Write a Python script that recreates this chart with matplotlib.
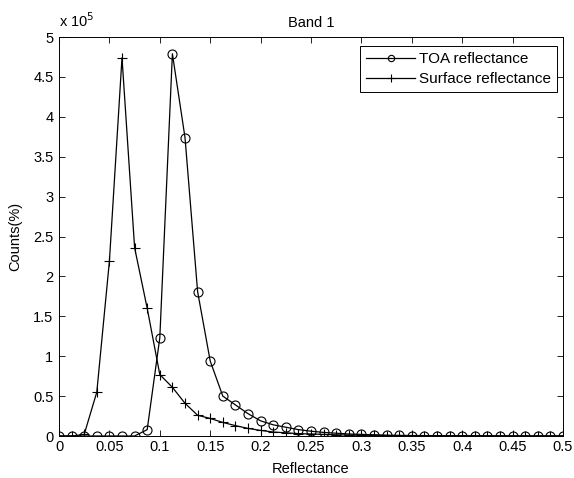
import numpy as np
import matplotlib
matplotlib.use('Agg')
import matplotlib.pyplot as plt
from matplotlib.ticker import FuncFormatter, MultipleLocator

# reflectance bins (step 0.0125)
reflectance = np.arange(41) * 0.0125

# counts per bin
toa_counts = [
    0, 0, 0, 0, 0, 0, 0, 8000, 123000, 479000,
    374000, 181000, 94000, 50000, 39000, 28000, 19000, 14000, 11000, 8000,
    6000, 4500, 3500, 2500, 2000, 1500, 1000, 800, 600, 500,
    400, 300, 300, 200, 200, 200, 100, 100, 100, 100, 100,
]
surface_counts = [
    0, 0, 2000, 55000, 219000, 474000, 236000, 160000, 77000, 61000,
    41000, 26000, 22000, 17000, 13000, 9500, 7000, 5000, 4000, 3000,
    2500, 2000, 1500, 1200, 1000, 800, 600, 500, 400, 300,
    300, 200, 200, 200, 100, 100, 100, 100, 100, 100, 100,
]

plt.rcParams['font.family'] = ['Liberation Sans', 'DejaVu Sans']
plt.rcParams['font.size'] = 10.5

fig = plt.figure(figsize=(5.74, 4.78), dpi=100)
ax = fig.add_axes([59 / 574, 1 - 436 / 478, 504 / 574, 399 / 478])

ax.plot(reflectance, toa_counts, color='black', lw=0.9, marker='o',
        mfc='none', mec='black', ms=6.5, mew=0.8, label='TOA reflectance')
ax.plot(reflectance, surface_counts, color='black', lw=0.9, marker='+',
        ms=7.5, mew=0.8, label='Surface reflectance')

ax.set_xlim(0, 0.5)
ax.set_ylim(0, 5e5)
ax.xaxis.set_major_locator(MultipleLocator(0.05))
ax.yaxis.set_major_locator(MultipleLocator(0.5e5))
ax.xaxis.set_major_formatter(FuncFormatter(lambda v, p: f'{v:g}'))
ax.yaxis.set_major_formatter(FuncFormatter(lambda v, p: f'{v / 1e5:g}'))
ax.tick_params(direction='in', top=True, right=True, length=4, width=0.6,
               labelsize=10.5)
ax.tick_params(axis='x', pad=3)
ax.tick_params(axis='y', pad=4)
for s in ax.spines.values():
    s.set_linewidth(0.7)

ax.set_title('Band 1', fontsize=10.5, pad=7.5)
ax.set_xlabel('Reflectance', fontsize=10.5, labelpad=5.5)
ax.set_ylabel('Counts(%)', fontsize=10.5, labelpad=8)
ax.text(0, 1.018, r'x 10$^{5}$', transform=ax.transAxes, fontsize=10.5,
        ha='left', va='bottom')

leg = ax.legend(loc='upper right', bbox_to_anchor=(1 - 6 / 504, 1 - 9 / 399),
                fontsize=11, fancybox=False, edgecolor='black', framealpha=1,
                borderaxespad=0, handlelength=3.2, handletextpad=0.25,
                borderpad=0.4, labelspacing=0.4, markerscale=0.7)
leg.get_frame().set_linewidth(0.7)

fig.savefig('out.png', dpi=100)
